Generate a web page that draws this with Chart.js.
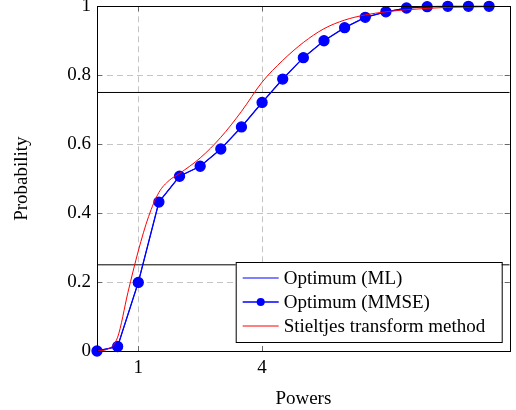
<!DOCTYPE html>
<html>
<head>
<meta charset="utf-8">
<script src="https://cdn.jsdelivr.net/npm/chart.js@4/dist/chart.umd.min.js"></script>
<style>
html, body { margin: 0; padding: 0; background: #fff; }
#wrap { width: 516px; height: 410px; position: relative; }
</style>
</head>
<body>
<div id="wrap"><canvas id="probChart"></canvas></div>
<script>
// data
const powers = [0, 0.5, 1, 1.5, 2, 2.5, 3, 3.5, 4, 4.5, 5, 5.5, 6, 6.5, 7, 7.5, 8, 8.5, 9, 9.5];
const mlProb = [0, 0.013, 0.199, 0.432, 0.507, 0.536, 0.586, 0.650, 0.721, 0.789, 0.851, 0.900, 0.938, 0.968, 0.984, 0.995, 0.999, 1, 1, 1];
const mmseProb = [0, 0.013, 0.199, 0.432, 0.507, 0.536, 0.586, 0.650, 0.721, 0.789, 0.851, 0.900, 0.938, 0.968, 0.984, 0.995, 0.999, 1, 1, 1];
const stieltjesPowers = [0, 0.25, 0.5, 0.75, 1, 1.25, 1.5, 1.75, 2, 2.5, 3, 3.5, 4, 4.5, 5, 5.5, 6, 6.5, 7, 7.5, 8, 8.5, 9, 9.5, 10];
const stieltjesProb = [0, 0.005, 0.04, 0.17, 0.29, 0.39, 0.46, 0.495, 0.515, 0.56, 0.62, 0.695, 0.78, 0.843, 0.895, 0.935, 0.96, 0.975, 0.984, 0.99, 0.994, 0.997, 0.998, 0.999, 1];
const refLevels = [0.25, 0.75];
const xRange = [0, 10];
const xTicks = [1, 4];
const yTicks = [0, 0.2, 0.4, 0.6, 0.8, 1];
const seriesNames = ["Optimum (ML)", "Optimum (MMSE)", "Stieltjes transform method"];

const serif = "'Liberation Serif', 'Times New Roman', serif";
const fontPx = 19;
const toPts = (xs, ys) => xs.map((x, i) => ({ x: x, y: ys[i] }));

// kotak legenda di dalam area plot, kanan bawah
const boxLegend = {
    id: "boxLegend",
    afterDraw(chart) {
        const ctx = chart.ctx;
        const area = chart.chartArea;
        const items = chart.data.datasets.filter((d) => d.inLegend);
        const w = 266, rowH = 24;
        const h = items.length * rowH + 8;
        const x0 = area.right - 8 - w;
        const y0 = area.bottom - 9 - h;
        ctx.save();
        ctx.fillStyle = "#fff";
        ctx.fillRect(x0, y0, w, h);
        ctx.strokeStyle = "#000";
        ctx.lineWidth = 1;
        ctx.strokeRect(x0 + 0.5, y0 + 0.5, w, h);
        ctx.font = fontPx + "px " + serif;
        ctx.textBaseline = "middle";
        items.forEach((d, i) => {
            const cy = y0 + 16 + i * rowH;
            ctx.strokeStyle = d.borderColor;
            ctx.lineWidth = d.borderWidth;
            ctx.beginPath();
            ctx.moveTo(x0 + 7, cy);
            ctx.lineTo(x0 + 43, cy);
            ctx.stroke();
            if (d.pointRadius > 0) {
                ctx.fillStyle = d.pointBackgroundColor;
                ctx.beginPath();
                ctx.arc(x0 + 25, cy, 4, 0, Math.PI * 2);
                ctx.fill();
            }
            ctx.fillStyle = "#000";
            ctx.fillText(d.label, x0 + 48, cy + 1);
        });
        ctx.restore();
    },
};

// bingkai dan tick ke dalam ala pgfplots
const frameTicks = {
    id: "frameTicks",
    afterDatasetsDraw(chart) {
        const ctx = chart.ctx;
        const a = chart.chartArea;
        const xs = chart.scales.x, ys = chart.scales.y;
        ctx.save();
        ctx.strokeStyle = "#666";
        ctx.lineWidth = 1;
        ctx.beginPath();
        xs.ticks.forEach((t) => {
            const px = Math.round(xs.getPixelForValue(t.value)) + 0.5;
            ctx.moveTo(px, a.bottom); ctx.lineTo(px, a.bottom - 5);
            ctx.moveTo(px, a.top); ctx.lineTo(px, a.top + 5);
        });
        ys.ticks.forEach((t) => {
            const py = Math.round(ys.getPixelForValue(t.value)) + 0.5;
            ctx.moveTo(a.left, py); ctx.lineTo(a.left + 5, py);
            ctx.moveTo(a.right, py); ctx.lineTo(a.right - 5, py);
        });
        ctx.stroke();
        ctx.strokeStyle = "#000";
        ctx.strokeRect(Math.round(a.left) + 0.5, Math.round(a.top) + 0.5,
            Math.round(a.right - a.left), Math.round(a.bottom - a.top));
        ctx.restore();
    },
};

const refSets = refLevels.map((lv) => ({
    label: "ref",
    data: toPts(xRange, [lv, lv]),
    borderColor: "#000",
    borderWidth: 1,
    pointRadius: 0,
    order: 3,
}));

new Chart(document.getElementById("probChart").getContext("2d"), {
    type: "line",
    data: {
        datasets: [
            {
                label: seriesNames[0],
                inLegend: true,
                data: toPts(powers, mlProb),
                borderColor: "#0000ff",
                borderWidth: 1,
                pointRadius: 0,
                tension: 0,
                order: 2,
            },
            {
                label: seriesNames[1],
                inLegend: true,
                data: toPts(powers, mmseProb),
                borderColor: "#0000ff",
                backgroundColor: "#0000ff",
                pointBackgroundColor: "#0000ff",
                pointBorderColor: "#0000ff",
                borderWidth: 1.3,
                pointRadius: 5,
                tension: 0,
                clip: false,
                order: 1,
            },
            {
                label: seriesNames[2],
                inLegend: true,
                data: toPts(stieltjesPowers, stieltjesProb),
                borderColor: "#ff0000",
                borderWidth: 1,
                pointRadius: 0,
                cubicInterpolationMode: "monotone",
                order: 0,
            },
            ...refSets,
        ],
    },
    options: {
        responsive: true,
        maintainAspectRatio: false,
        animation: false,
        layout: { padding: { top: 6, right: 4, left: 0, bottom: 0 } },
        plugins: {
            legend: { display: false },
            tooltip: { enabled: false },
        },
        scales: {
            x: {
                type: "linear",
                min: xRange[0],
                max: xRange[1],
                afterBuildTicks: (s) => { s.ticks = xTicks.map((v) => ({ value: v })); },
                afterFit: (s) => { s.height = 59; s.paddingLeft = 0; s.paddingRight = 0; },
                grid: { color: "#c4c4c4", drawTicks: false },
                border: { display: false, dash: [6, 4] },
                ticks: {
                    padding: 6,
                    color: "#000",
                    maxRotation: 0,
                    font: { family: serif, size: fontPx },
                },
                title: {
                    display: true,
                    text: "Powers",
                    color: "#000",
                    padding: { top: 5, bottom: 0 },
                    font: { family: serif, size: fontPx },
                },
            },
            y: {
                min: 0,
                max: 1,
                afterBuildTicks: (s) => { s.ticks = yTicks.map((v) => ({ value: v })); },
                afterFit: (s) => { s.width = 97; s.paddingTop = 0; s.paddingBottom = 0; },
                grid: { color: "#c4c4c4", drawTicks: false },
                border: { display: false, dash: [6, 4] },
                ticks: {
                    padding: 6,
                    color: "#000",
                    callback: (v) => String(v),
                    font: { family: serif, size: fontPx },
                },
                title: {
                    display: true,
                    text: "Probability",
                    color: "#000",
                    padding: { top: 11, bottom: 0 },
                    font: { family: serif, size: fontPx },
                },
            },
        },
    },
    plugins: [frameTicks, boxLegend],
});
</script>
</body>
</html>
